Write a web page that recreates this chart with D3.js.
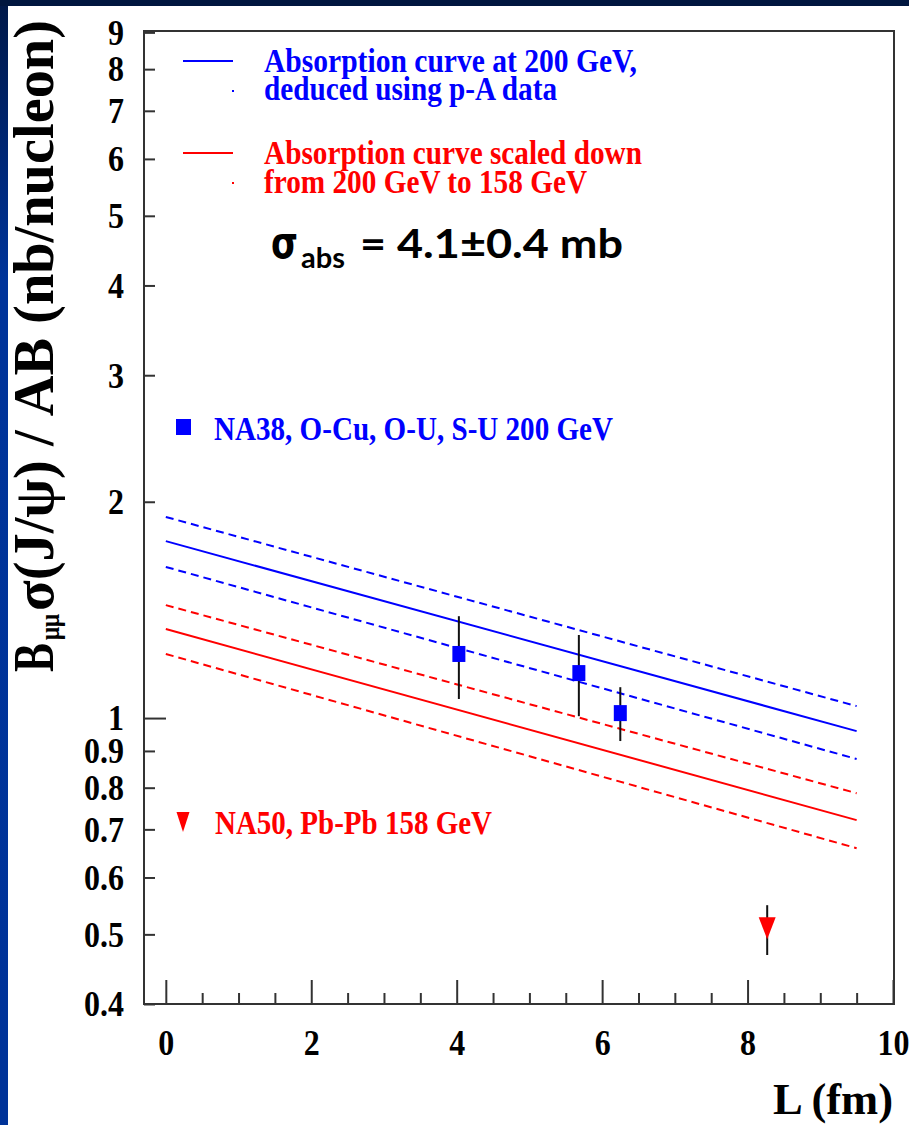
<!DOCTYPE html>
<html>
<head>
<meta charset="utf-8">
<script src="https://cdn.jsdelivr.net/npm/d3@7"></script>
<style>
  body { margin: 0; background: #fff; }
</style>
</head>
<body>
<script>
// curve end points (L in fm, value in nb/nucleon)
var curveL = [0, 9.5];
var blueCurve = [1.763, 0.959];
var blueUpper = [1.905, 1.039];
var blueLower = [1.623, 0.877];
var redCurve = [1.330, 0.721];
var redUpper = [1.436, 0.786];
var redLower = [1.228, 0.659];

// NA38 points
var na38L = [4.03, 5.68, 6.25];
var na38Val = [1.228, 1.155, 1.016];
var na38Hi = [1.386, 1.305, 1.104];
var na38Lo = [1.063, 1.006, 0.929];

// NA50 point
var na50L = [8.27];
var na50Val = [0.510];
var na50Hi = [0.549];
var na50Lo = [0.468];

var yTicks = [0.4, 0.5, 0.6, 0.7, 0.8, 0.9, 1, 2, 3, 4, 5, 6, 7, 8, 9];
var xTicks = [0, 2, 4, 6, 8, 10];

var curveText = ["Absorption curve at 200 GeV,", "deduced using p-A data",
                 "Absorption curve scaled down", "from 200 GeV to 158 GeV"];
var pointText = ["NA38, O-Cu, O-U, S-U 200 GeV", "NA50, Pb-Pb 158 GeV"];

var W = 909, H = 1125;
var serif = "'Liberation Serif', 'Times New Roman', serif";
var BLUE = "#0000ff", RED = "#ff0000", INK = "#333";

var svg = d3.select("body").append("svg")
    .attr("width", W).attr("height", H);

// slide backdrop: navy strip on top, blue strip on the left
var grad = svg.append("defs").append("linearGradient")
    .attr("id", "edge").attr("x1", 0).attr("y1", 0).attr("x2", 0).attr("y2", 1);
grad.append("stop").attr("offset", "0%").attr("stop-color", "#001848");
grad.append("stop").attr("offset", "25%").attr("stop-color", "#00349a");
grad.append("stop").attr("offset", "100%").attr("stop-color", "#003399");
svg.append("rect").attr("width", W).attr("height", H).attr("fill", "#fff");
svg.append("rect").attr("width", 8).attr("height", H).attr("fill", "url(#edge)");
svg.append("rect").attr("width", W).attr("height", 6).attr("fill", "#00163f");

var x = d3.scaleLinear().domain([-0.3, 10]).range([144, 893]);
var y = d3.scaleLog().domain([0.4, 9.04]).range([1004, 31]);

// y axis, ticks pointing inward
var yAxis = svg.append("g").attr("transform", "translate(144,0)")
    .call(d3.axisLeft(y).tickValues(yTicks).tickFormat(d3.format("~g"))
        .tickSize(-11).tickPadding(20));
yAxis.select(".domain").remove();
yAxis.selectAll(".tick line").attr("stroke", INK).attr("stroke-width", 2)
    .filter(function (d) { return d === 1; }).attr("x2", 22);

// x axis, major + minor ticks
var xAxis = svg.append("g").attr("transform", "translate(0,1004)")
    .call(d3.axisBottom(x).tickValues(xTicks).tickSize(-24).tickPadding(22));
var minor = d3.range(0.5, 10, 0.5).filter(function (v) { return v % 2 !== 0; });
var xMinor = svg.append("g").attr("transform", "translate(0,1004)")
    .call(d3.axisBottom(x).tickValues(minor).tickSize(-11).tickFormat(""));
[xAxis, xMinor].forEach(function (g) {
  g.select(".domain").remove();
  g.selectAll(".tick line").attr("stroke", INK).attr("stroke-width", 2);
});

[yAxis, xAxis].forEach(function (g) {
  g.selectAll("text")
      .attr("font-family", serif).attr("font-weight", "bold")
      .attr("font-size", 32).attr("fill", "#000")
      .attr("transform", "scale(1,1.15)");
});

// frame
svg.append("rect").attr("x", 144).attr("y", 31)
    .attr("width", 750).attr("height", 973)
    .attr("fill", "none").attr("stroke", INK).attr("stroke-width", 2);

// curves
var line = d3.line().x(function (d) { return x(d[0]); }).y(function (d) { return y(d[1]); });
var curves = [
  { v: blueUpper, c: BLUE, dash: "8,5" },
  { v: blueCurve, c: BLUE, dash: null },
  { v: blueLower, c: BLUE, dash: "8,5" },
  { v: redUpper, c: RED, dash: "8,5" },
  { v: redCurve, c: RED, dash: null },
  { v: redLower, c: RED, dash: "8,5" }
];
curves.forEach(function (cv) {
  svg.append("path")
      .datum(curveL.map(function (l, i) { return [l, cv.v[i]]; }))
      .attr("d", line)
      .attr("fill", "none").attr("stroke", cv.c).attr("stroke-width", 2)
      .attr("stroke-dasharray", cv.dash);
});

// NA38 points with error bars
var na38 = na38L.map(function (l, i) {
  return { l: l, v: na38Val[i], hi: na38Hi[i], lo: na38Lo[i] };
});
svg.selectAll(".bar38").data(na38).enter().append("line")
    .attr("x1", function (d) { return x(d.l); }).attr("x2", function (d) { return x(d.l); })
    .attr("y1", function (d) { return y(d.hi); }).attr("y2", function (d) { return y(d.lo); })
    .attr("stroke", "#111").attr("stroke-width", 2);
svg.selectAll(".pt38").data(na38).enter().append("rect")
    .attr("x", function (d) { return x(d.l) - 6.5; })
    .attr("y", function (d) { return y(d.v) - 8; })
    .attr("width", 13).attr("height", 16).attr("fill", BLUE);

// NA50 point
var na50 = na50L.map(function (l, i) {
  return { l: l, v: na50Val[i], hi: na50Hi[i], lo: na50Lo[i] };
});
svg.selectAll(".bar50").data(na50).enter().append("line")
    .attr("x1", function (d) { return x(d.l); }).attr("x2", function (d) { return x(d.l); })
    .attr("y1", function (d) { return y(d.hi); }).attr("y2", function (d) { return y(d.lo); })
    .attr("stroke", "#111").attr("stroke-width", 2);
var tri = "M-8.5,-11L8.5,-11L0,11Z";
svg.selectAll(".pt50").data(na50).enter().append("path")
    .attr("d", tri)
    .attr("transform", function (d) { return "translate(" + x(d.l) + "," + y(d.v) + ")"; })
    .attr("fill", RED);

function label(txt, x0, y0, size, len, color) {
  return svg.append("text").attr("x", x0).attr("y", y0)
      .attr("font-family", serif).attr("font-weight", "bold")
      .attr("font-size", size).attr("fill", color)
      .attr("textLength", len).attr("lengthAdjust", "spacingAndGlyphs")
      .text(txt);
}

// curve legend
svg.append("line").attr("x1", 183).attr("x2", 233).attr("y1", 61).attr("y2", 61)
    .attr("stroke", BLUE).attr("stroke-width", 2);
svg.append("line").attr("x1", 232).attr("x2", 234).attr("y1", 91).attr("y2", 91)
    .attr("stroke", BLUE).attr("stroke-width", 2);
svg.append("line").attr("x1", 183).attr("x2", 233).attr("y1", 153).attr("y2", 153)
    .attr("stroke", RED).attr("stroke-width", 2);
svg.append("line").attr("x1", 232).attr("x2", 234).attr("y1", 183).attr("y2", 183)
    .attr("stroke", RED).attr("stroke-width", 2);
label(curveText[0], 264, 72, 34, 373, BLUE);
label(curveText[1], 264, 100, 34, 293, BLUE);
label(curveText[2], 264, 164, 34, 378, RED);
label(curveText[3], 264, 193, 34, 323, RED);

// point legend
svg.append("rect").attr("x", 176).attr("y", 419).attr("width", 15).attr("height", 16).attr("fill", BLUE);
label(pointText[0], 214, 440, 34, 399, BLUE);
svg.append("path").attr("d", "M-6.5,-10L6.5,-10L0,10Z")
    .attr("transform", "translate(183,822)").attr("fill", RED);
label(pointText[1], 215, 834, 34, 277, RED);

// sigma_abs annotation
svg.append("text").attr("x", 271).attr("y", 258)
    .attr("font-family", "'DejaVu Sans', sans-serif").attr("font-weight", "bold")
    .attr("font-size", 44).attr("fill", "#000")
    .attr("textLength", 27).attr("lengthAdjust", "spacingAndGlyphs").text("σ");
svg.append("text").attr("x", 301).attr("y", 268)
    .attr("font-family", "Lato, sans-serif").attr("font-weight", "bold")
    .attr("font-size", 28).attr("fill", "#000")
    .attr("textLength", 44).attr("lengthAdjust", "spacingAndGlyphs").text("abs");
svg.append("text").attr("x", 360).attr("y", 258)
    .attr("font-family", "Lato, sans-serif").attr("font-weight", "bold")
    .attr("font-size", 40).attr("fill", "#000")
    .attr("textLength", 263).attr("lengthAdjust", "spacingAndGlyphs").text("= 4.1±0.4 mb");

// y axis title, rotated
function vlabel(txt, x0, y0, size, len) {
  return svg.append("text")
      .attr("transform", "translate(" + x0 + "," + y0 + ") rotate(-90)")
      .attr("font-family", serif).attr("font-weight", "bold")
      .attr("font-size", size).attr("fill", "#000")
      .attr("textLength", len).attr("lengthAdjust", "spacingAndGlyphs")
      .text(txt);
}
vlabel("B", 53, 672, 56, 29);
vlabel("μμ", 59, 640, 28, 26);
vlabel("σ(J/ψ) / AB (nb/nucleon)", 53, 611, 56, 591);

// x axis title
svg.append("text").attr("x", 773).attr("y", 1114)
    .attr("font-family", serif).attr("font-weight", "bold")
    .attr("font-size", 44).attr("fill", "#000")
    .attr("textLength", 120).attr("lengthAdjust", "spacingAndGlyphs")
    .text("L (fm)");
</script>
</body>
</html>
